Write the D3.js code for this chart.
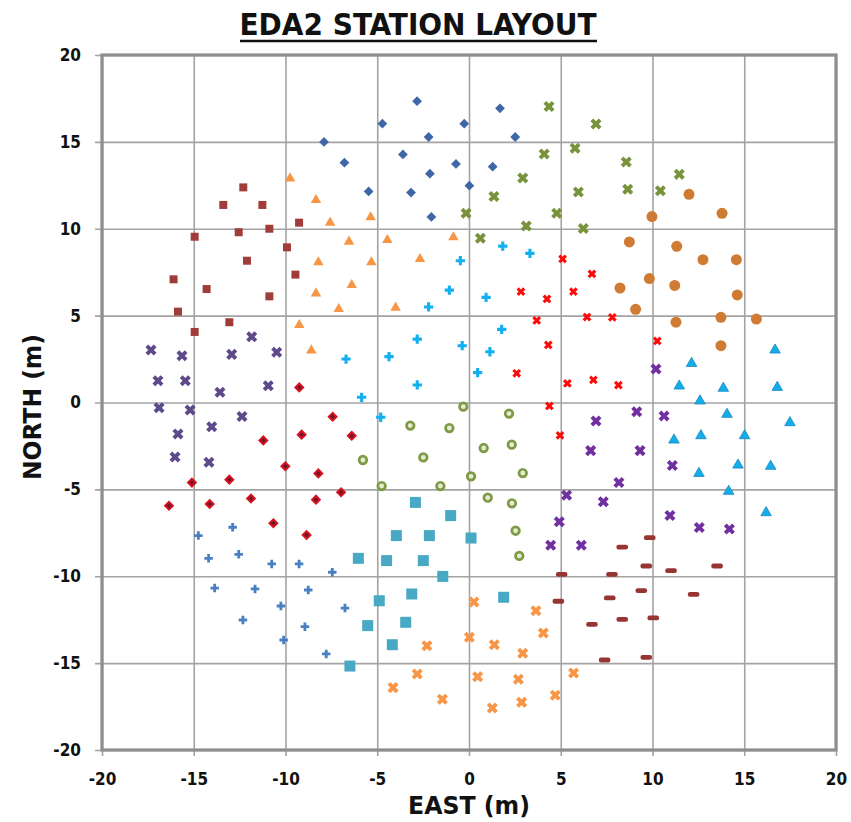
<!DOCTYPE html>
<meta charset="utf-8">
<style>
  body { margin: 0; background: #fff; }
  text { font-family: "DejaVu Sans Condensed", "DejaVu Sans", sans-serif; font-stretch: condensed; font-weight: bold; }
</style>
<script src="https://d3js.org/d3.v7.min.js"></script>
<div id="chart"></div>
<script>

// station positions (east, north) in metres, one array per group of 16 tiles
var blueDiamonds = [[-7.9,15.0],[-2.83,17.34],[1.69,16.93],[-4.72,16.05],[-0.26,16.05],[-2.2,15.28],[2.52,15.28],[-6.79,13.8],
  [-3.6,14.28],[-0.71,13.73],[1.29,13.57],[-2.13,13.17],[-5.47,12.15],[-3.16,12.08],[0.02,12.48],[-2.05,10.68]];
var brownSquares = [[-12.3,12.38],[-13.39,11.37],[-11.26,11.37],[-9.26,10.35],[-14.95,9.54],[-12.55,9.8],[-10.88,10.0],[-9.92,8.93],
  [-12.1,8.16],[-9.46,7.36],[-16.1,7.09],[-14.3,6.53],[-10.88,6.11],[-15.86,5.23],[-14.95,4.06],[-13.06,4.62]];
var orangeTriangles = [[-9.75,12.9],[-8.34,11.65],[-7.57,10.35],[-8.21,8.07],[-8.34,6.28],[-7.1,5.38],[-5.36,10.66],[-6.54,9.26],
  [-4.45,9.35],[-0.85,9.51],[-5.32,8.07],[-2.67,8.26],[-6.39,6.76],[-4.0,5.46],[-9.25,4.46],[-8.59,3.0]];
var greenCrosses = [[4.36,17.03],[4.1,14.3],[5.78,14.63],[2.93,12.92],[5.96,12.12],[1.36,11.85],[-0.16,10.89],[4.78,10.89],
  [3.12,10.16],[6.23,10.02],[0.62,9.45],[6.92,16.03],[8.57,13.84],[11.46,13.13],[8.65,12.27],[10.43,12.19]];
var copperCircles = [[11.99,11.98],[13.79,10.89],[9.97,10.7],[8.74,9.24],[11.32,8.99],[12.75,8.22],[14.57,8.22],[9.83,7.13],
  [8.23,6.59],[11.21,6.74],[14.62,6.19],[9.08,5.36],[11.28,4.62],[13.73,4.9],[15.66,4.8],[13.73,3.27]];
var redCrosses = [[5.1,8.26],[2.83,6.38],[4.25,5.96],[5.69,6.38],[3.69,4.72],[6.43,4.92],[6.7,7.4],[7.81,4.9],
  [4.32,3.31],[2.6,1.68],[5.36,1.1],[4.38,-0.2],[4.96,-1.89],[10.26,3.54],[6.78,1.3],[8.14,1.0]];
var skyPlus = [[1.84,9.0],[3.32,8.58],[-0.47,8.16],[-1.07,6.47],[0.93,6.05],[-2.2,5.5],[1.78,4.21],[-2.82,3.65],
  [-6.7,2.5],[-4.36,2.64],[-0.37,3.27],[1.14,2.92],[0.47,1.72],[-2.82,1.01],[-5.85,0.3],[-4.81,-0.85]];
var cyanTriangles = [[16.68,3.02],[12.13,2.25],[11.46,0.95],[13.86,0.82],[16.8,0.87],[12.59,0.09],[14.06,-0.68],[17.49,-1.16],
  [11.17,-2.16],[12.64,-1.91],[15.02,-1.91],[14.66,-3.6],[16.44,-3.67],[12.53,-4.08],[14.15,-5.11],[16.19,-6.34]];
var violetCrosses = [[10.19,1.93],[6.92,-1.06],[9.14,-0.53],[10.63,-0.78],[6.63,-2.77],[9.32,-2.77],[11.08,-3.62],[8.17,-4.6],
  [7.32,-5.71],[10.95,-6.51],[12.55,-7.19],[14.19,-7.28],[6.12,-8.21],[5.32,-5.34],[4.92,-6.86],[4.45,-8.22]];
var maroonDashes = [[9.85,-7.78],[8.35,-8.32],[9.66,-9.41],[11.01,-9.68],[13.52,-9.41],[7.79,-9.89],[9.39,-10.83],[7.67,-11.25],
  [12.24,-11.04],[6.7,-12.77],[8.35,-12.48],[10.04,-12.4],[7.39,-14.82],[9.66,-14.67],[5.05,-9.89],[4.87,-11.44]];
var oliveRings = [[-0.31,-0.24],[2.18,-0.64],[-3.2,-1.33],[-1.07,-1.47],[0.8,-2.62],[2.33,-2.43],[-2.49,-3.16],[-5.78,-3.31],
  [0.11,-4.25],[2.93,-4.06],[-4.76,-4.81],[-1.56,-4.81],[1.02,-5.48],[2.34,-5.8],[2.54,-7.38],[2.74,-8.83]];
var redDiamonds = [[-9.25,0.87],[-7.43,-0.82],[-9.12,-1.85],[-11.21,-2.18],[-10.01,-3.67],[-8.21,-4.08],[-13.06,-4.44],[-15.1,-4.61],
  [-16.35,-5.94],[-14.13,-5.84],[-11.88,-5.53],[-8.34,-5.59],[-10.66,-6.95],[-8.85,-7.63],[-6.97,-5.17],[-6.39,-1.91]];
var duskCrosses = [[-17.33,3.02],[-15.64,2.69],[-11.84,3.79],[-12.93,2.77],[-10.48,2.89],[-16.95,1.25],[-15.46,1.25],[-13.57,0.59],
  [-10.94,0.97],[-16.89,-0.3],[-15.2,-0.43],[-12.37,-0.8],[-14.02,-1.39],[-15.86,-1.81],[-16.02,-3.14],[-14.17,-3.44]];
var bluePlus = [[-14.75,-7.66],[-12.88,-7.18],[-14.19,-8.97],[-12.55,-8.74],[-10.75,-9.29],[-9.26,-9.29],[-7.45,-9.77],[-13.86,-10.68],
  [-11.66,-10.73],[-8.76,-10.79],[-10.25,-11.71],[-12.32,-12.52],[-8.94,-12.9],[-10.1,-13.67],[-7.78,-14.47],[-6.76,-11.83]];
var tealSquares = [[-2.92,-5.75],[-1.0,-6.51],[-3.96,-7.66],[-2.16,-7.66],[0.11,-7.8],[-6.03,-8.97],[-4.49,-9.1],[-2.49,-9.1],
  [-1.43,-10.01],[-3.12,-11.02],[-4.89,-11.41],[1.89,-11.21],[-5.52,-12.84],[-3.45,-12.65],[-4.18,-13.94],[-6.49,-15.17]];
var orangeCrosses = [[0.27,-11.48],[3.65,-11.98],[4.05,-13.27],[0.02,-13.51],[1.38,-13.94],[-2.29,-14.0],[2.93,-14.43],[-2.82,-15.63],
  [0.47,-15.78],[2.69,-15.93],[5.7,-15.57],[-4.14,-16.41],[-1.45,-17.08],[4.7,-16.85],[1.27,-17.58],[2.87,-17.25]];

var tickValues = [-20, -15, -10, -5, 0, 5, 10, 15, 20];

var W = 851, H = 822;
var plotL = 102, plotR = 836, plotT = 55, plotB = 750;

var svg = d3.select("#chart").append("svg")
    .attr("width", W)
    .attr("height", H);

var x = d3.scaleLinear().domain([-20, 20]).range([plotL, plotR]);
var y = d3.scaleLinear().domain([-20, 20]).range([plotB, plotT]);

function fmt(d) { return String(d); }

// grid + tick labels
var yAxis = svg.append("g")
    .attr("transform", "translate(" + (plotL - 7) + ",0)")
    .call(d3.axisLeft(y).tickValues(tickValues).tickFormat(fmt)
      .tickSize(-(plotR - plotL + 7)).tickPadding(14));
var xAxis = svg.append("g")
    .attr("transform", "translate(0," + (plotB + 6) + ")")
    .call(d3.axisBottom(x).tickValues(tickValues).tickFormat(fmt)
      .tickSize(-(plotB - plotT + 6)).tickPadding(17));

[xAxis, yAxis].forEach(function(g) {
  g.select(".domain").remove();
  g.selectAll(".tick line").attr("stroke", "#a3a3a3").attr("stroke-width", 1.6);
  g.selectAll(".tick text")
    .attr("fill", "#111")
    .style("font-size", "17px");
  g.attr("font-family", null);
});

// plot frame
svg.append("rect")
    .attr("x", plotL).attr("y", plotT)
    .attr("width", plotR - plotL).attr("height", plotB - plotT)
    .attr("fill", "none")
    .attr("stroke", "#8e8e8e")
    .attr("stroke-width", 3.2);

// marker styles per group
var series = [
  {data: blueDiamonds,   kind: "sym", type: d3.symbolSquare, size: 48, rot: 45, fill: "#3f67a7"},
  {data: brownSquares,   kind: "sym", type: d3.symbolSquare, size: 64, rot: 0,  fill: "#a03d3a"},
  {data: orangeTriangles,kind: "sym", type: d3.symbolTriangle, size: 48, rot: 0, fill: "#f79646"},
  {data: greenCrosses,   kind: "sym", type: d3.symbolCross, size: 76, rot: 45, fill: "#77933c"},
  {data: copperCircles,  kind: "sym", type: d3.symbolCircle, size: 95, rot: 0, fill: "#cf7b33"},
  {data: redCrosses,     kind: "sym", type: d3.symbolCross, size: 48, rot: 45, fill: "#ff0a0a"},
  {data: skyPlus,        kind: "sym", type: d3.symbolCross, size: 48, rot: 0, fill: "#12b0ef"},
  {data: cyanTriangles,  kind: "sym", type: d3.symbolTriangle, size: 48, rot: 0, fill: "#13ade8", stroke: "#1b86c4", sw: 0.8},
  {data: violetCrosses,  kind: "sym", type: d3.symbolCross, size: 76, rot: 45, fill: "#7030a0"},
  {data: maroonDashes,   kind: "dash", fill: "#973532"},
  {data: oliveRings,     kind: "ring", fill: "#e4ecd3", stroke: "#7f9a45"},
  {data: redDiamonds,    kind: "sym", type: d3.symbolSquare, size: 30, rot: 45, fill: "#6e1632", stroke: "#d8121c", sw: 2},
  {data: duskCrosses,    kind: "sym", type: d3.symbolCross, size: 76, rot: 45, fill: "#5e4a8a"},
  {data: bluePlus,       kind: "sym", type: d3.symbolCross, size: 40, rot: 0, fill: "#4a80c2"},
  {data: tealSquares,    kind: "sym", type: d3.symbolSquare, size: 121, rot: 0, fill: "#47a9c4"},
  {data: orangeCrosses,  kind: "sym", type: d3.symbolCross, size: 76, rot: 45, fill: "#f79646"}
];

series.forEach(function(s) {
  var g = svg.append("g");
  var pts = g.selectAll("g.pt").data(s.data).enter().append("g")
      .attr("class", "pt")
      .attr("transform", function(d) { return "translate(" + x(d[0]) + "," + y(d[1]) + ")"; });
  if (s.kind === "sym") {
    pts.append("path")
      .attr("d", d3.symbol().type(s.type).size(s.size))
      .attr("transform", "rotate(" + s.rot + ")")
      .attr("fill", s.fill)
      .attr("stroke", s.stroke || "none")
      .attr("stroke-width", s.sw || 0);
  } else if (s.kind === "dash") {
    pts.append("rect")
      .attr("x", -5.8).attr("y", -2.4)
      .attr("width", 11.6).attr("height", 4.8)
      .attr("rx", 2.2)
      .attr("fill", s.fill);
  } else {
    pts.append("circle")
      .attr("r", 3.8)
      .attr("fill", s.fill)
      .attr("stroke", s.stroke)
      .attr("stroke-width", 2.7);
  }
});

// title
svg.append("text")
    .attr("x", 418)
    .attr("y", 35)
    .attr("text-anchor", "middle")
    .attr("textLength", 357)
    .attr("lengthAdjust", "spacingAndGlyphs")
    .style("font-size", "30px")
    .attr("fill", "#111")
    .text("EDA2 STATION LAYOUT");
svg.append("line")
    .attr("x1", 240).attr("x2", 597)
    .attr("y1", 41).attr("y2", 41)
    .attr("stroke", "#111")
    .attr("stroke-width", 2.5);

// axis titles
svg.append("text")
    .attr("x", (plotL + plotR) / 2)
    .attr("y", 814)
    .attr("text-anchor", "middle")
    .attr("textLength", 122)
    .attr("lengthAdjust", "spacingAndGlyphs")
    .style("font-size", "25px")
    .attr("fill", "#111")
    .text("EAST (m)");

svg.append("text")
    .attr("transform", "translate(41,407) rotate(-90)")
    .attr("text-anchor", "middle")
    .attr("textLength", 146)
    .attr("lengthAdjust", "spacingAndGlyphs")
    .style("font-size", "25px")
    .attr("fill", "#111")
    .text("NORTH (m)");

</script>
